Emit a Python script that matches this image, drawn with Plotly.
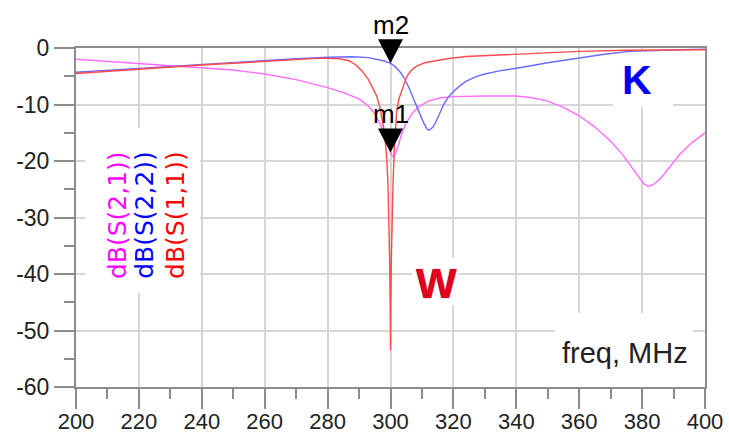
import numpy as np
import plotly.graph_objects as go

# ---- S-parameter sweep data (dB vs MHz) ----
freq_s21 = [200, 210, 220, 230, 240, 250, 260, 270, 280, 285, 290, 293, 295, 297, 298.5,
            299.5, 300.3, 300.9, 301.6, 302.5, 303.5, 305, 307, 309, 312, 316, 320, 330,
            340, 345, 350, 355, 360, 365, 370, 374, 378, 380.5, 382, 383.5, 386, 389,
            392, 396, 400]
s21_db = [-2.0, -2.4, -2.8, -3.2, -3.5, -3.9, -4.6, -5.6, -7.0, -7.9, -9.0, -10.3, -11.6,
          -13.8, -16.0, -17.8, -18.9, -19.2, -18.7, -17.2, -15.3, -13.2, -11.5, -10.4,
          -9.4, -8.8, -8.6, -8.5, -8.5, -8.8, -9.4, -10.5, -12.0, -14.0, -16.5, -19.0,
          -22.0, -24.0, -24.5, -24.2, -23.0, -21.0, -18.8, -16.7, -15.0]

freq_s22 = [200, 210, 220, 230, 240, 250, 260, 270, 280, 288, 293, 296, 298, 300, 301.5,
            303, 304.5, 306, 307.5, 309, 310.5, 311.7, 312.5, 313.5, 314.5, 315.7, 317,
            318.5, 320, 322, 324, 327, 330, 335, 341, 350, 360, 368, 376, 385, 392, 400]
s22_db = [-4.3, -4.0, -3.6, -3.25, -2.9, -2.5, -2.2, -1.9, -1.65, -1.55, -1.7, -2.0, -2.3,
          -2.7, -3.3, -4.2, -5.4, -7.2, -9.2, -11.3, -13.2, -14.4, -14.5, -14.0, -13.0,
          -11.5, -9.9, -8.6, -7.7, -6.7, -5.9, -5.1, -4.6, -4.0, -3.5, -2.6, -1.7, -1.1,
          -0.6, -0.4, -0.3, -0.2]

freq_s11 = [200, 210, 220, 230, 240, 250, 260, 270, 278, 284, 287, 289, 291, 293, 294.5,
            295.6, 296.5, 297.2, 297.8, 298.3, 298.8, 299.2, 299.5, 299.75, 299.9, 300.0,
            300.1, 300.25, 300.5, 300.8, 301.2, 301.6, 302.0, 302.8, 303.6, 305.2, 306.7,
            308.3, 311, 313.6, 318, 324, 335, 345, 360, 375, 392, 400]
s11_db = [-4.5, -4.1, -3.7, -3.35, -3.0, -2.7, -2.35, -2.0, -1.8, -1.9, -2.3, -3.0, -4.1,
          -5.6, -7.2, -8.5, -10.2, -12.1, -14.0, -16.2, -19.5, -24.0, -30.0, -38.0, -46.0,
          -53.5, -46.0, -38.0, -30.0, -24.0, -18.0, -14.0, -10.9, -8.8, -7.4, -5.0, -3.9,
          -3.2, -2.6, -2.3, -1.9, -1.5, -1.2, -0.9, -0.6, -0.4, -0.3, -0.3]

# marker frequency (MHz)
marker_freq = 300.0

# axis ranges and ticks
x_range = [200, 400]
y_range = [-60, 0]
x_tickvals = [200, 220, 240, 260, 280, 300, 320, 340, 360, 380, 400]
x_ticktext = ["200", "220", "240", "260", "280", "300", "320", "340", "360", "380", "400"]
x_minor = [210, 230, 250, 270, 290, 310, 330, 350, 370, 390]
y_tickvals = [0, -10, -20, -30, -40, -50, -60]
y_ticktext = ["0", "-10", "-20", "-30", "-40", "-50", "-60"]
y_minor = [-5, -15, -25, -35, -45, -55]

C_S21 = "#ff6cff"
C_S22 = "#6a6aff"
C_S11 = "#ff4a4a"
AXIS = "#8c8c8c"
GRID = "#d6d6d6"
SANS = "Liberation Sans, Arial, sans-serif"

fig = go.Figure()
fig.add_trace(go.Scatter(x=freq_s21, y=s21_db, mode="lines", name="dB(S(2,1))",
                         line=dict(color=C_S21, width=1.4)))
fig.add_trace(go.Scatter(x=freq_s22, y=s22_db, mode="lines", name="dB(S(2,2))",
                         line=dict(color=C_S22, width=1.4)))
fig.add_trace(go.Scatter(x=freq_s11, y=s11_db, mode="lines", name="dB(S(1,1))",
                         line=dict(color=C_S11, width=1.4)))

# marker readouts
m1_val = float(np.interp(marker_freq, freq_s21, s21_db))
m2_val = float(np.interp(marker_freq, freq_s22, s22_db))


def to_paper_x(v):
    return (v - x_range[0]) / (x_range[1] - x_range[0])


def to_paper_y(v):
    return (v - y_range[0]) / (y_range[1] - y_range[0])


shapes = []
annotations = []

# white backing panels behind the labels (between grid and traces)
for (x0, x1, y0, y1) in [(202.9, 239.4, -43.3, -14.1),   # trace names
                         (306.8, 321.5, -45.5, -37.1),   # W
                         (370.7, 389.8, -10.5, -0.3),    # K
                         (352.3, 396.2, -60.0, -46.9)]:  # freq label
    shapes.append(dict(type="rect", xref="x", yref="y", x0=x0, x1=x1, y0=y0, y1=y1,
                       fillcolor="white", line=dict(width=0), layer="between"))

# marker triangles (paper-referenced so they are not clipped at the frame),
# tip sitting on the trace value
for val in (m1_val, m2_val):
    shapes.append(dict(type="path", xref="paper", yref="paper",
                       xsizemode="pixel", ysizemode="pixel",
                       xanchor=to_paper_x(marker_freq), yanchor=to_paper_y(val),
                       path="M-12.5,24 L12.5,24 L0,0 Z",
                       fillcolor="black", line=dict(width=0), layer="above"))

for name, val in (("m1", m1_val), ("m2", m2_val)):
    annotations.append(dict(x=marker_freq, y=val, xref="x", yref="y", text=name,
                            showarrow=False, yanchor="bottom", yshift=21,
                            font=dict(family=SANS, size=26, color="black")))

# rotated trace names
for xpos, label, col in ((213.0, "dB(S(2,1))", "#ff00ff"),
                         (221.8, "dB(S(2,2))", "#0000ff"),
                         (231.4, "dB(S(1,1))", "#ff0000")):
    annotations.append(dict(x=xpos, y=-29.6, xref="x", yref="y", text=label,
                            showarrow=False, textangle=-90,
                            font=dict(family="DejaVu Sans, sans-serif", size=25, color=col)))

annotations.append(dict(x=314.6, y=-41.6, xref="x", yref="y", text="<b>W</b>",
                        showarrow=False,
                        font=dict(family=SANS, size=43,
                                  color="#e4001c", shadow="0px 0px 1px #6a0000")))
annotations.append(dict(x=378.4, y=-5.7, xref="x", yref="y", text="<b>K</b>",
                        showarrow=False,
                        font=dict(family=SANS, size=41, color="#0000ee")))
annotations.append(dict(x=374.5, y=-54.0, xref="x", yref="y", text="freq, MHz",
                        showarrow=False,
                        font=dict(family=SANS, size=29, color="#222222")))

axis_common = dict(ticks="outside", ticklen=20, tickwidth=2, tickcolor=AXIS,
                   showline=True, linecolor=AXIS, linewidth=2, mirror=True,
                   showgrid=True, gridcolor=GRID, gridwidth=2, zeroline=False,
                   automargin=False)

fig.update_layout(
    width=729, height=433,
    margin=dict(l=76, r=24, t=48, b=46),
    paper_bgcolor="white", plot_bgcolor="white",
    showlegend=False,
    xaxis=dict(range=x_range, tickmode="array", tickvals=x_tickvals, ticktext=x_ticktext,
               ticklabelstandoff=-6,
               tickfont=dict(family=SANS, size=22, color="#222222"),
               minor=dict(tickmode="array", tickvals=x_minor, ticks="outside", ticklen=10,
                          tickwidth=2, tickcolor=AXIS, showgrid=False),
               **axis_common),
    yaxis=dict(range=y_range, tickmode="array", tickvals=y_tickvals, ticktext=y_ticktext,
               tickfont=dict(family=SANS, size=23, color="#222222"),
               minor=dict(tickmode="array", tickvals=y_minor, ticks="outside", ticklen=10,
                          tickwidth=2, tickcolor=AXIS, showgrid=False),
               **axis_common),
    shapes=shapes,
    annotations=annotations,
)

fig.write_html("out.html")
